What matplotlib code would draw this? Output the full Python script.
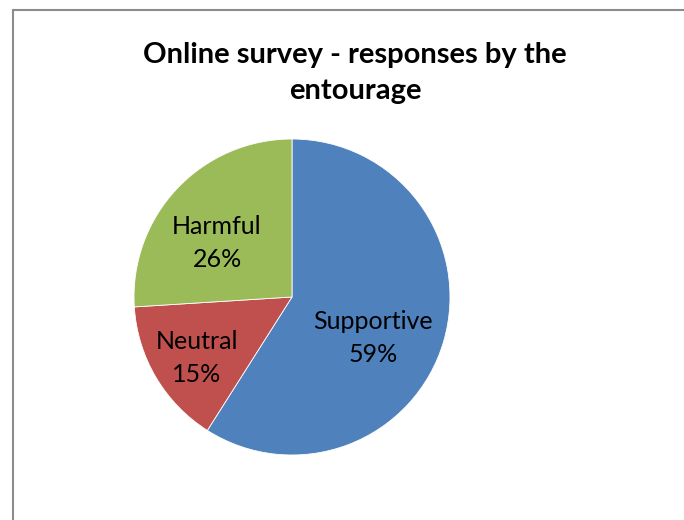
import numpy as np
import matplotlib
matplotlib.use("Agg")
import matplotlib.pyplot as plt
from matplotlib.patches import Rectangle

# survey answers, share of responses
categories = ["Supportive", "Neutral", "Harmful"]
shares = [59, 15, 26]
colors = ["#4F81BD", "#C0504D", "#9BBB59"]
# label placement: distance from centre, angle nudge (deg) from wedge middle
label_dist = [0.575, 0.714, 0.585]
label_turn = [-10.6, 2.1, 7.4]

plt.rcParams["font.family"] = ["Lato", "DejaVu Sans"]

fig = plt.figure(figsize=(6.84, 5.2), dpi=100)

# chart area frame (runs off the right and bottom edges)
fig.patches.append(Rectangle((12.5 / 684, -0.1), 1.2, (520 - 9.5) / 520 + 0.1,
                             transform=fig.transFigure, fill=False,
                             edgecolor="#8c8c8c", linewidth=1.5))

fig.text(355 / 684, 1 - 73 / 520, "Online survey - responses by the\nentourage",
         ha="center", va="center", fontsize=21, fontweight="bold",
         linespacing=1.48)

cx, cy, r = 292, 297, 158
ax = fig.add_axes([(cx - r) / 684, (520 - cy - r) / 520, 2 * r / 684, 2 * r / 520])
wedges, _ = ax.pie(shares, colors=colors, startangle=90, counterclock=False,
                   radius=1, wedgeprops=dict(linewidth=0.6, edgecolor="white"))
ax.set_xlim(-1, 1)
ax.set_ylim(-1, 1)
ax.axis("off")

for w, name, val, d, t in zip(wedges, categories, shares, label_dist, label_turn):
    mid = np.deg2rad((w.theta1 + w.theta2) / 2 + t)
    ax.text(d * np.cos(mid), d * np.sin(mid), f"{name}\n{val}%",
            ha="center", va="center", fontsize=18, linespacing=1.5)

fig.savefig("out.png", dpi=100)
